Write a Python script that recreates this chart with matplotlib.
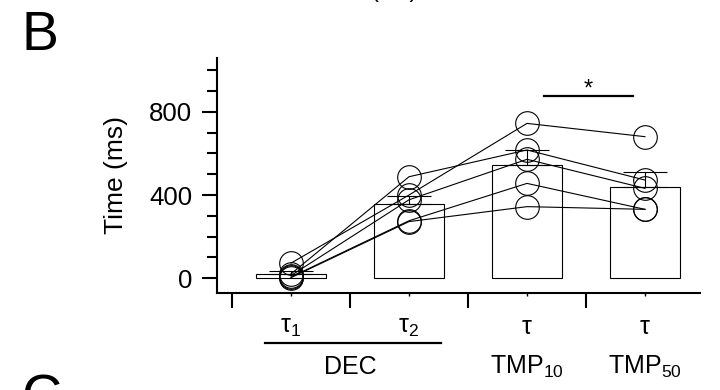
import matplotlib
matplotlib.use("Agg")
import matplotlib.pyplot as plt
import numpy as np

plt.rcParams["font.family"] = ["Liberation Sans", "DejaVu Sans"]
plt.rcParams["mathtext.default"] = "regular"

# conditions (x positions 0..3)
TAU_LABELS = [r"$\tau_1$", r"$\tau_2$", r"$\tau$", r"$\tau$"]
GROUP_LABELS = ["TMP$_{10}$", "TMP$_{50}$"]

# bar means and upper error (SEM)
means = [21, 355, 545, 441]
err = [14, 40, 72, 69]

# individual subjects, one value per condition
subjects = [
    [72, 400, 745, 681],
    [20, 488, 617, 472],
    [12, 377, 572, 432],
    [5, 276, 456, 331],
    [2, 272, 344, 331],
]

SIG_Y = 877

fig = plt.figure(figsize=(7.2, 3.9), dpi=100)
ax = fig.add_axes([0.3014, 0.2487, 0.6708, 0.6026])

xs = np.arange(len(means))
ax.bar(xs, means, width=0.6, color="white", edgecolor="black", linewidth=0.8, zorder=1)
ax.errorbar(xs, means, yerr=[np.zeros(len(err)), err], fmt="none", ecolor="black",
            elinewidth=0.8, capsize=16, capthick=0.8, zorder=2)

for s in subjects:
    ax.plot(xs, s, color="black", linewidth=0.8, marker="o", markersize=17,
            markerfacecolor="none", markeredgecolor="black", markeredgewidth=0.8,
            zorder=3)

# significance bar
ax.plot([2.14, 2.9], [SIG_Y, SIG_Y], color="black", linewidth=1.6, zorder=3)
ax.text(2.52, SIG_Y + 4, "*", ha="center", va="baseline", fontsize=17)

ax.set_xlim(-0.627, 3.466)
ax.set_ylim(-72, 1060)

for side in ("top", "right"):
    ax.spines[side].set_visible(False)
for side in ("left", "bottom"):
    ax.spines[side].set_linewidth(1.5)

ax.set_yticks([0, 400, 800])
ax.set_yticks(np.arange(0, 1001, 100), minor=True)
ax.tick_params(axis="y", which="major", length=11, width=1.5, labelsize=18.5, pad=7)
ax.tick_params(axis="y", which="minor", length=7, width=1.5)

ax.set_xticks([-0.5, 0.5, 1.5, 2.5])
ax.set_xticklabels([])
ax.set_xticks(xs, minor=True)
ax.tick_params(axis="x", which="major", length=11, width=1.5)
ax.tick_params(axis="x", which="minor", length=2, width=1.0)

ax.set_ylabel("Time (ms)", fontsize=19, labelpad=15)

tr = ax.get_xaxis_transform()
for x, lab in zip(xs, TAU_LABELS):
    ax.text(x, -0.145, lab, transform=tr, ha="center", va="center", fontsize=18)
ax.plot([-0.22, 1.27], [-0.213, -0.213], transform=tr, color="black",
        linewidth=1.6, clip_on=False)
ax.text(0.5, -0.315, "DEC", transform=tr, ha="center", va="center", fontsize=18)
for x, lab in zip(xs[2:], GROUP_LABELS):
    ax.text(x, -0.315, lab, transform=tr, ha="center", va="center", fontsize=18)

fig.text(0.03, 0.872, "B", fontsize=40, ha="left", va="baseline")
fig.text(0.03, -0.059, "C", fontsize=40, ha="left", va="baseline")
fig.text(0.547, 1.007, "(ms)", fontsize=17, ha="center", va="baseline")

fig.savefig("out.png", dpi=100)
